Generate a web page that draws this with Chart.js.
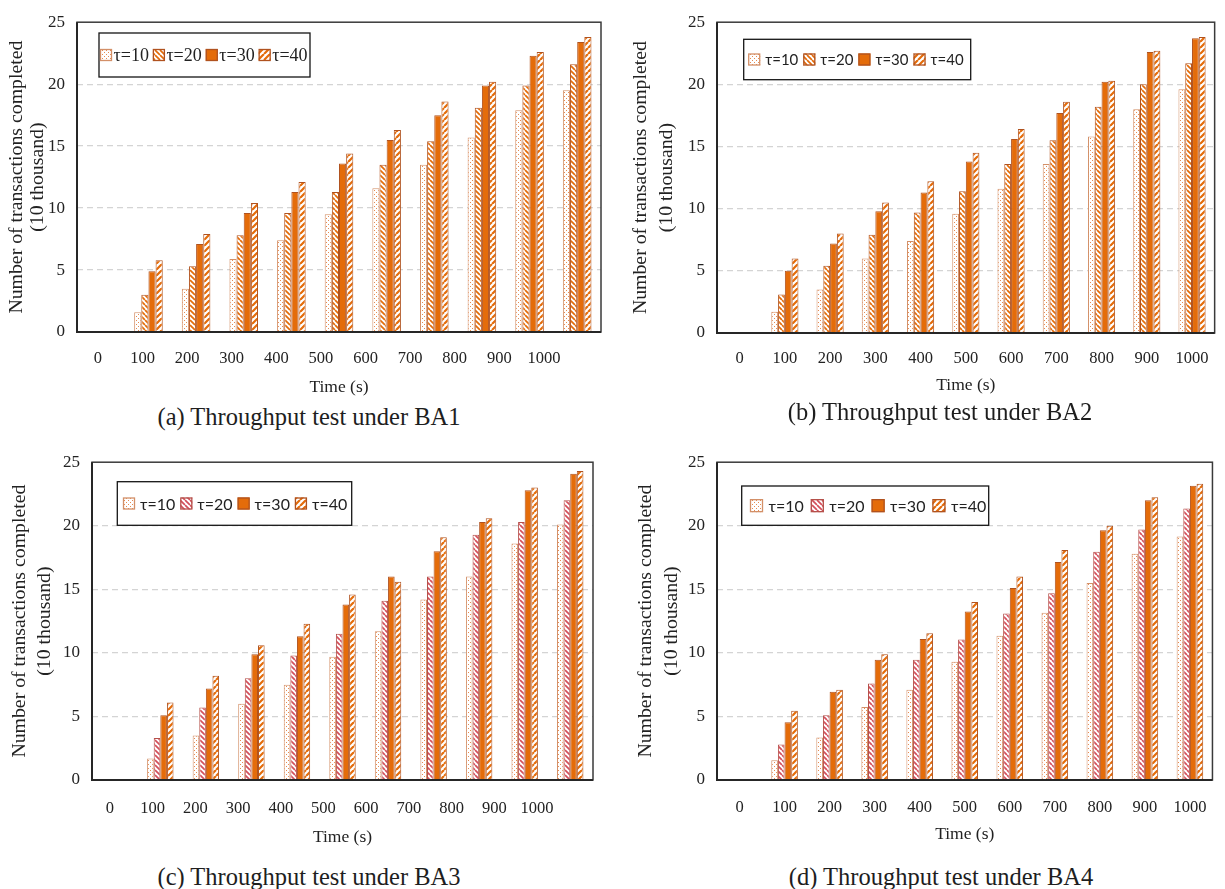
<!DOCTYPE html>
<html><head><meta charset="utf-8">
<script src="https://cdn.jsdelivr.net/npm/chart.js@4.4.1/dist/chart.umd.min.js"></script>
<style>
html,body{margin:0;padding:0;background:#fff;width:1225px;height:889px;overflow:hidden}
.panel{position:absolute}
.panel canvas{display:block}
.cap{position:absolute;font-family:"Liberation Serif","Times New Roman",serif;font-size:24.5px;color:#1e1e1e;white-space:nowrap;transform:translate(-50%,-50%)}
</style></head><body>
<div class="panel" style="left:0px;top:0px"><canvas id="cA" width="612" height="400"></canvas></div>
<div class="panel" style="left:612px;top:0px"><canvas id="cB" width="613" height="400"></canvas></div>
<div class="panel" style="left:0px;top:440px"><canvas id="cC" width="612" height="420"></canvas></div>
<div class="panel" style="left:612px;top:440px"><canvas id="cD" width="613" height="420"></canvas></div>
<div class="cap" style="left:309px;top:417px">(a) Throughput test under BA1</div>
<div class="cap" style="left:940px;top:412px">(b) Throughput test under BA2</div>
<div class="cap" style="left:309px;top:877px">(c) Throughput test under BA3</div>
<div class="cap" style="left:941px;top:877px">(d) Throughput test under BA4</div>
<script>
// ---------- data ----------
const timeLabels = [0, 100, 200, 300, 400, 500, 600, 700, 800, 900, 1000];
const seriesNames = ['τ=10', 'τ=20', 'τ=30', 'τ=40'];
const yTicks = [0, 5, 10, 15, 20, 25];

const ba1Tau10 = [0, 1.6, 3.5, 5.9, 7.4, 9.5, 11.6, 13.5, 15.7, 17.9, 19.5];
const ba1Tau20 = [0, 3.0, 5.3, 7.8, 9.6, 11.3, 13.5, 15.4, 18.1, 19.9, 21.6];
const ba1Tau30 = [0, 4.9, 7.1, 9.6, 11.3, 13.6, 15.5, 17.5, 19.9, 22.3, 23.4];
const ba1Tau40 = [0, 5.8, 7.9, 10.4, 12.1, 14.4, 16.3, 18.6, 20.2, 22.6, 23.8];

const ba2Tau10 = [0, 1.7, 3.5, 6.0, 7.4, 9.6, 11.6, 13.6, 15.8, 18.0, 19.6];
const ba2Tau20 = [0, 3.1, 5.4, 7.9, 9.7, 11.4, 13.6, 15.5, 18.2, 20.0, 21.7];
const ba2Tau30 = [0, 5.0, 7.2, 9.8, 11.3, 13.8, 15.6, 17.7, 20.2, 22.6, 23.7];
const ba2Tau40 = [0, 6.0, 8.0, 10.5, 12.2, 14.5, 16.4, 18.6, 20.3, 22.7, 23.8];

const ba3Tau10 = [0, 1.7, 3.5, 6.0, 7.5, 9.7, 11.7, 14.2, 16.0, 18.6, 20.1];
const ba3Tau20 = [0, 3.3, 5.7, 8.0, 9.8, 11.5, 14.1, 16.0, 19.3, 20.3, 22.0];
const ba3Tau30 = [0, 5.1, 7.2, 9.9, 11.3, 13.8, 16.0, 18.0, 20.3, 22.8, 24.1];
const ba3Tau40 = [0, 6.1, 8.2, 10.6, 12.3, 14.6, 15.6, 19.1, 20.6, 23.0, 24.3];

const ba4Tau10 = [0, 1.55, 3.35, 5.75, 7.1, 9.3, 11.35, 13.15, 15.5, 17.8, 19.15];
const ba4Tau20 = [0, 2.8, 5.1, 7.6, 9.45, 11.05, 13.1, 14.7, 17.95, 19.7, 21.35];
const ba4Tau30 = [0, 4.55, 6.95, 9.45, 11.1, 13.25, 15.1, 17.15, 19.65, 22.0, 23.15];
const ba4Tau40 = [0, 5.45, 7.1, 9.9, 11.55, 14.0, 16.0, 18.1, 20.0, 22.25, 23.3];

const xTitle = 'Time (s)';
const yTitle = ['Number of transactions completed', '(10 thousand)'];

// ---------- styles ----------
const ORANGE = '#e46c0a';
const EDGE = '#b0521f';
const SERIF = '"Liberation Serif","Times New Roman",serif';
const SANS = 'Lato,"Open Sans","Noto Sans",sans-serif';

function tile(size, draw) {
  const c = document.createElement('canvas');
  c.width = size; c.height = size;
  const g = c.getContext('2d');
  g.fillStyle = '#fff'; g.fillRect(0, 0, size, size);
  draw(g, size);
  return g.createPattern(c, 'repeat');
}
function dotPattern(color) {
  return tile(4, (g) => { g.fillStyle = color; g.fillRect(0, 0, 1, 1); g.fillRect(2, 2, 1, 1); });
}
function backPattern(color, w) {
  return tile(5, (g, s) => {
    g.strokeStyle = color; g.lineWidth = w; g.beginPath();
    for (const o of [-s, 0, s]) { g.moveTo(o, 0); g.lineTo(o + s, s); }
    g.stroke();
  });
}
function fwdPattern(color, w) {
  return tile(6, (g, s) => {
    g.strokeStyle = color; g.lineWidth = w; g.beginPath();
    for (const o of [-s, 0, s]) { g.moveTo(o, s); g.lineTo(o + s, 0); }
    g.stroke();
  });
}

// ---------- plugins ----------
const frame = {
  id: 'frame',
  afterDatasetsDraw(chart) {
    const a = chart.chartArea, ctx = chart.ctx;
    ctx.save();
    ctx.strokeStyle = '#3a3a3a'; ctx.lineWidth = 1.5;
    ctx.strokeRect(a.left, a.top, a.right - a.left, a.bottom - a.top);
    ctx.strokeStyle = '#262626'; ctx.lineWidth = 2;
    ctx.beginPath();
    ctx.moveTo(a.left, a.top); ctx.lineTo(a.left, a.bottom); ctx.lineTo(a.right, a.bottom);
    ctx.stroke();
    ctx.restore();
  }
};
const boxLegend = {
  id: 'boxLegend',
  afterDatasetsDraw(chart, args, o) {
    const ctx = chart.ctx;
    ctx.save();
    ctx.fillStyle = '#fff'; ctx.fillRect(o.x, o.y, o.w, o.h);
    ctx.strokeStyle = '#151515'; ctx.lineWidth = 1.3; ctx.strokeRect(o.x, o.y, o.w, o.h);
    ctx.font = o.font; ctx.textBaseline = 'middle'; ctx.textAlign = 'left';
    let x = o.x + o.padLeft;
    const cy = o.y + o.h / 2 + (o.dy || 0);
    chart.data.datasets.forEach(ds => {
      ctx.fillStyle = ds.backgroundColor;
      ctx.fillRect(x, cy - o.sw / 2, o.sw, o.sw);
      ctx.strokeStyle = ds.borderColor; ctx.lineWidth = 1.3;
      ctx.strokeRect(x + 0.5, cy - o.sw / 2 + 0.5, o.sw - 1, o.sw - 1);
      x += o.sw + o.textGap;
      ctx.fillStyle = '#222';
      ctx.fillText(ds.label, x, cy + 1);
      x += ctx.measureText(ds.label).width + o.itemGap;
    });
    ctx.restore();
  }
};

// ---------- chart builder ----------
function build(id, series, P) {
  const tau20Color = P.tau20Color || ORANGE;
  const styles = [
    { bg: dotPattern('#e58b52'), bd: '#d39068' },
    { bg: backPattern(tau20Color, 1.7), bd: P.tau20Edge || EDGE },
    { bg: ORANGE, bd: EDGE },
    { bg: fwdPattern(ORANGE, 2.2), bd: EDGE }
  ];
  const canvas = document.getElementById(id);
  const H = canvas.height, W = canvas.width;
  return new Chart(canvas, {
    type: 'bar',
    data: {
      labels: timeLabels,
      datasets: series.map((d, i) => ({
        label: seriesNames[i], data: d,
        backgroundColor: styles[i].bg, borderColor: styles[i].bd, borderWidth: 1,
        categoryPercentage: P.catPct, barPercentage: 1.0, xAxisID: 'x', yAxisID: 'y'
      }))
    },
    options: {
      responsive: false, animation: false, devicePixelRatio: 1,
      layout: { padding: { top: P.top, right: W - P.right, left: 0, bottom: 0 } },
      plugins: {
        legend: { display: false }, tooltip: { enabled: false }, title: { display: false },
        boxLegend: P.legend
      },
      scales: {
        x: { type: 'category', display: false, offset: true },
        x2: {
          type: 'linear', position: 'bottom', min: P.xMin, max: P.xMax, bounds: 'data', offset: false,
          afterBuildTicks: s => { s.ticks = timeLabels.map(v => ({ value: v })); },
          afterFit: s => { s.height = H - P.bottom; },
          grid: { display: false, drawTicks: false, offset: false }, border: { display: false },
          ticks: { autoSkip: false, maxRotation: 0, includeBounds: false, padding: P.xTickPad, color: '#222',
                   font: { family: SERIF, size: 16.5 }, callback: v => String(v) },
          title: { display: true, text: xTitle, color: '#222',
                   font: { family: SERIF, size: 17.5, lineHeight: 1.2 },
                   padding: { top: 0, bottom: P.xTitlePad } }
        },
        y: {
          min: 0, max: 25,
          afterBuildTicks: s => { s.ticks = yTicks.map(v => ({ value: v })); },
          afterFit: s => { s.width = P.left; },
          grid: { drawTicks: false, lineWidth: 1.3,
                  color: c => (c.tick && (c.tick.value === 0 || c.tick.value === 25)) ? 'rgba(0,0,0,0)' : '#d4d4d4' },
          border: { display: false, dash: [6, 4] },
          ticks: { padding: 12, color: '#222', font: { family: SERIF, size: 17 } },
          title: { display: true, text: yTitle, color: '#222',
                   font: { family: SERIF, size: 19.8, lineHeight: P.yLh },
                   padding: { top: P.yTitlePad, bottom: 0 } }
        }
      }
    },
    plugins: [frame, boxLegend]
  });
}

build('cA', [ba1Tau10, ba1Tau20, ba1Tau30, ba1Tau40], {
  left: 77, top: 15, right: 601, bottom: 332, catPct: 0.6,
  xMin: -47, xMax: 1128, xTickPad: 17, xTitlePad: 2.5, yLh: 21 / 19.8, yTitlePad: 6.5,
  legend: { x: 99, y: 33, w: 211, h: 44, font: '18px ' + SERIF, sw: 12, padLeft: 1, textGap: 1.5, itemGap: 4 }
});
build('cB', [ba2Tau10, ba2Tau20, ba2Tau30, ba2Tau40], {
  left: 105, top: 16, right: 605, bottom: 333, catPct: 0.6,
  xMin: -50, xMax: 1050, xTickPad: 16, xTitlePad: 4.5, yLh: 26 / 19.8, yTitlePad: 16,
  legend: { x: 131.7, y: 39.3, w: 227, h: 40.4, font: '15px ' + SANS, sw: 12, padLeft: 4.5, textGap: 5, itemGap: 5 }
});
build('cC', [ba3Tau10, ba3Tau20, ba3Tau30, ba3Tau40], {
  left: 92, top: 22, right: 593, bottom: 340, catPct: 0.58,
  xMin: -42, xMax: 1131, xTickPad: 19, xTitlePad: 12.5, yLh: 25 / 19.8, yTitlePad: 7.5,
  tau20Color: '#d4505c', tau20Edge: '#b5504a',
  legend: { x: 117.3, y: 41.7, w: 234.4, h: 43.6, font: '16px ' + SANS, sw: 12, padLeft: 5.7, textGap: 5, itemGap: 5 }
});
build('cD', [ba4Tau10, ba4Tau20, ba4Tau30, ba4Tau40], {
  left: 105, top: 22, right: 605, bottom: 340, catPct: 0.59,
  xMin: -50, xMax: 1050, xTickPad: 18, xTitlePad: 15, yLh: 26 / 19.8, yTitlePad: 20.5,
  tau20Color: '#d4505c', tau20Edge: '#b5504a',
  legend: { x: 129.7, y: 46, w: 247, h: 39.3, font: '16px ' + SANS, sw: 13, padLeft: 8.3, textGap: 5.5, itemGap: 7 }
});
</script>
</body></html>
